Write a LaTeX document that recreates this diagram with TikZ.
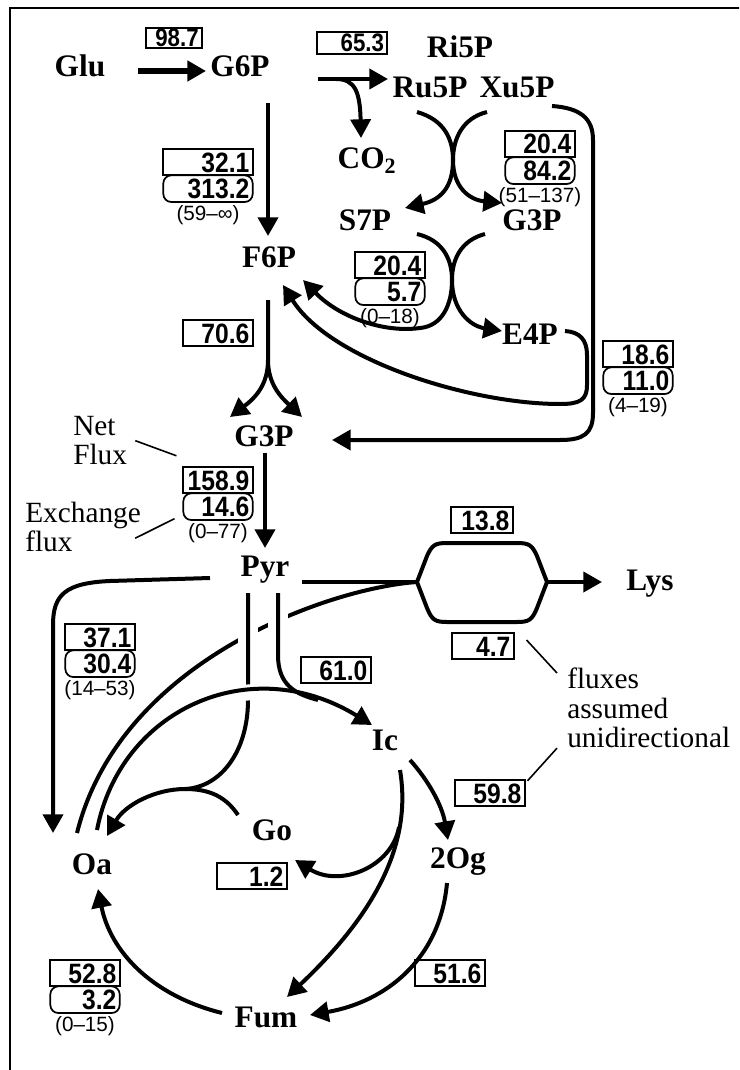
\documentclass[tikz,border=0pt]{standalone}
\usepackage{fontspec}
\setmainfont{Liberation Serif}
\newfontfamily\numfont{Liberation Sans}[FakeStretch=0.88]
\newfontfamily\rangefont{Liberation Sans}
\usetikzlibrary{arrows.meta, positioning}

\begin{document}
\begin{tikzpicture}[x=0.75pt, y=-0.75pt,
    met/.style={font=\bfseries\fontsize{23.5}{23.5}\selectfont, inner sep=0pt, text height=15.5pt, text depth=0pt},
    netbox/.style={draw, line width=1.3pt, font=\numfont\bfseries\fontsize{21}{21}\selectfont, text width=#1, align=right, inner xsep=2.5pt, inner ysep=0pt, minimum height=20pt, text height=15pt, text depth=0pt},
    netbox/.default=47pt,
    exbox/.style={netbox=#1, rounded corners=6pt},
    exbox/.default=47pt,
    rangetext/.style={font=\rangefont\fontsize{15.5}{15.5}\selectfont, inner sep=0pt},
    notetext/.style={font=\fontsize{22}{22}\selectfont, align=left, inner sep=0pt, anchor=north west},
    flux/.style={line width=3pt, -{Triangle[length=14pt, width=15pt]}},
    link/.style={line width=3pt},
    leader/.style={line width=1.2pt},
    gapline/.style={white, line width=15pt}]

    \useasboundingbox (0,0) rectangle (739,1070);
    \clip (0,0) rectangle (739,1070);
    \draw[line width=1.5pt] (10,1090) -- (10,8) -- (760,8);

    \node[met] (glu) at (80,66) {Glu};
    \node[met] (g6p) at (240,66) {G6P};
    \node[met] (ri5p) at (460,47) {Ri5P};
    \node[met] (ru5p) at (430,87) {Ru5P};
    \node[met] (xu5p) at (517,87) {Xu5P};
    \node[met] (co2) at (367,158) {CO\textsubscript{2}};
    \node[met] (s7p) at (365,220) {S7P};
    \node[met] (g3pa) at (532,220) {G3P};
    \node[met] (f6p) at (269,257) {F6P};
    \node[met] (e4p) at (530,334) {E4P};
    \node[met] (g3pb) at (264,436) {G3P};
    \node[met] (pyr) at (265,566) {Pyr};
    \node[met] (lys) at (650,580) {Lys};
    \node[met] (ic) at (385,740) {Ic};
    \node[met] (og) at (458,858) {2Og};
    \node[met] (go) at (272,830) {Go};
    \node[met] (oa) at (92,864) {Oa};
    \node[met] (fum) at (266,1017) {Fum};

    \node[netbox=37pt, minimum height=15pt, text height=13pt, font=\numfont\bfseries\fontsize{19}{19}\selectfont] (n987) at (174,38) {98.7};
    \node[netbox=48pt, minimum height=16pt, text height=13pt, font=\numfont\bfseries\fontsize{19}{19}\selectfont] (n653) at (352,43) {65.3};
    \node[netbox=62pt] (n321) at (208,162) {32.1};
    \node[exbox=62pt, below=-1.3pt of n321] (x3132) {313.2};
    \node[rangetext, below=1.5pt of x3132] (r3132) {(59–∞)};
    \node[netbox] (n204a) at (540,144) {20.4};
    \node[exbox, below=-1.3pt of n204a] (x842) {84.2};
    \node[rangetext, below=1.5pt of x842] (r842) {(51–137)};
    \node[netbox] (n204b) at (390,265) {20.4};
    \node[exbox, below=-1.3pt of n204b] (x57) {5.7};
    \node[rangetext, below=1.5pt of x57] (r57) {(0–18)};
    \node[netbox] (n706) at (218,333) {70.6};
    \node[netbox] (n186) at (638,354) {18.6};
    \node[exbox, below=-1.3pt of n186] (x110) {11.0};
    \node[rangetext, below=1.5pt of x110] (r110) {(4–19)};
    \node[netbox] (n1589) at (218,480) {158.9};
    \node[exbox, below=-1.3pt of n1589] (x146) {14.6};
    \node[rangetext, below=1.5pt of x146] (r146) {(0–77)};
    \node[netbox=41pt] (n138) at (482,520) {13.8};
    \node[netbox] (n371) at (100,637) {37.1};
    \node[exbox, below=-1.3pt of n371] (x304) {30.4};
    \node[rangetext, below=1.5pt of x304] (r304) {(14–53)};
    \node[netbox] (n610) at (336,670) {61.0};
    \node[netbox=41pt] (n47) at (483,646) {4.7};
    \node[netbox] (n598) at (490,793) {59.8};
    \node[netbox] (n12) at (252,876) {1.2};
    \node[netbox] (n516) at (450,973) {51.6};
    \node[netbox] (n528) at (85,973) {52.8};
    \node[exbox, below=-1.3pt of n528] (x32) {3.2};
    \node[rangetext, below=1.5pt of x32] (r32) {(0–15)};

    \node[notetext] (netlbl) at (73,416) {Net\\Flux};
    \node[notetext] (exlbl) at (25,502) {Exchange\\flux};
    \node[notetext] (unilbl) at (567,668) {fluxes\\assumed\\unidirectional};

    \draw[leader] ([xshift=6pt]netlbl.east) -- ([shift={(-6,-10)}]n1589.north west);
    \draw[leader] ([shift={(-6,11)}]exlbl.east) -- ([shift={(-8,12)}]x146.west);
    \draw[leader] ([shift={(12,-6)}]n47.east) -- ([shift={(-10,5)}]unilbl.north west);
    \draw[leader] ([shift={(-10,0)}]unilbl.south west) -- ([shift={(2,2)}]n598.north east);

    \coordinate (split) at (268,360);
    \coordinate (lysL) at (417,582);
    \coordinate (lysR) at (547,582);
    \coordinate (gojoin) at (185,789);
    \coordinate (icjoin) at (318,700);
    \coordinate (gobranch) at (399,827);

    \draw[flux, line width=4.5pt] ([shift={(58,5)}]glu.center) -- ([shift={(-34,5)}]g6p.center);
    \draw[flux] ([shift={(78,13)}]g6p.center) -- ([shift={(-42,-8)}]ru5p.center);
    \draw[flux] ([shift={(96,13)}]g6p.center) .. controls (355,79) and (360,92) .. ([shift={(-6,-20)}]co2.center);
    \draw[flux] ([shift={(28,37)}]g6p.center) -- ([shift={(-1,-21)}]f6p.center);

    \draw[flux] ([shift={(-13,25)}]ru5p.center) .. controls (445,120) and (453,140) .. (453,160)
        .. controls (453,188) and (470,200) .. ([shift={(-30,-17)}]g3pa.center);
    \draw[flux] ([shift={(-30,25)}]xu5p.center) .. controls (463,118) and (453,138) .. (453,160)
        .. controls (453,188) and (440,200) .. ([shift={(40,-12)}]s7p.center);
    \draw[flux] ([shift={(52,14)}]s7p.center) .. controls (442,240) and (452,258) .. (452,280)
        .. controls (452,305) and (442,326) .. (420,328)
        .. controls (385,333) and (340,318) .. ([shift={(34,23)}]f6p.center);
    \draw[flux] ([shift={(-47,14)}]g3pa.center) .. controls (462,240) and (452,258) .. (452,280)
        .. controls (452,310) and (470,326) .. ([shift={(-28,-3)}]e4p.center);
    \draw[flux] ([shift={(35,-3)}]e4p.center) .. controls (580,332) and (587,340) .. (587,355) -- (587,385)
        .. controls (587,400) and (580,404) .. (560,404)
        .. controls (470,404) and (330,360) .. ([shift={(14,28)}]f6p.center);
    \draw[flux] ([shift={(35,19)}]xu5p.center) .. controls (580,108) and (593,118) .. (593,140) -- (593,413)
        .. controls (593,434) and (583,440) .. (560,440) -- ([shift={(68,4)}]g3pb.center);

    \draw[flux] ([shift={(-1,43)}]f6p.center) -- (split)
        .. controls (268,385) and (255,398) .. ([shift={(-34,-19)}]g3pb.center);
    \draw[flux] (split) .. controls (268,385) and (282,398) .. ([shift={(38,-19)}]g3pb.center);
    \draw[flux] ([shift={(1,17)}]g3pb.center) -- ([shift={(0,-18)}]pyr.center);

    \draw[flux] ([shift={(-55,12)}]pyr.center) -- (110,581) .. controls (65,583) and (53,595) .. (53,625)
        -- ([shift={(-39,-31)}]oa.center);
    \draw[link] ([shift={(37,16)}]pyr.center) -- (lysL);
    \draw[link] (lysL) -- (427,556) .. controls (432,545) and (435,543) .. (447,543) -- (517,543)
        .. controls (529,543) and (532,545) .. (537,556) -- (lysR) -- (537,608)
        .. controls (532,620) and (529,622) .. (517,622) -- (447,622)
        .. controls (435,622) and (432,620) .. (427,608) -- cycle;
    \draw[flux] (lysR) -- ([shift={(-48,2)}]lys.center);
    \draw[link] (lysL) .. controls (330,588) and (120,660) .. ([shift={(-15,-31)}]oa.center);

    \draw[gapline] ([shift={(-17,35)}]pyr.center) -- ([shift={(-17,115)}]pyr.center);
    \draw[gapline] ([shift={(13,35)}]pyr.center) -- ([shift={(13,84)}]pyr.center);
    \draw[link] ([shift={(-17,27)}]pyr.center) -- (248,700) .. controls (248,750) and (222,787) .. (gojoin);
    \draw[flux, preaction={draw, white, line width=12pt, -}] ([shift={(5,-34)}]oa.center)
        .. controls (120,710) and (250,650) .. ([shift={(-13,-15)}]ic.center);
    \draw[link] ([shift={(13,27)}]pyr.center) -- (278,655) .. controls (278,685) and (295,694) .. (icjoin);
    \draw[flux] ([shift={(-34,-15)}]go.center) .. controls (226,797) and (210,789) .. (gojoin)
        .. controls (155,789) and (125,805) .. ([shift={(15,-28)}]oa.center);

    \draw[flux] ([shift={(-44,-4)}]fum.center) .. controls (150,995) and (110,950) .. ([shift={(6,25)}]oa.center);
    \draw[flux] ([shift={(25,20)}]ic.center) .. controls (428,780) and (442,805) .. ([shift={(-10,-18)}]og.center);
    \draw[flux] ([shift={(15,30)}]ic.center) .. controls (410,830) and (390,900) .. ([shift={(21,-20)}]fum.center);
    \draw[flux] (gobranch) .. controls (392,867) and (340,888) .. ([shift={(23,30)}]go.center);
    \draw[flux] ([shift={(-11,25)}]og.center) .. controls (440,960) and (385,1002) .. ([shift={(44,-2)}]fum.center);
\end{tikzpicture}
\end{document}
